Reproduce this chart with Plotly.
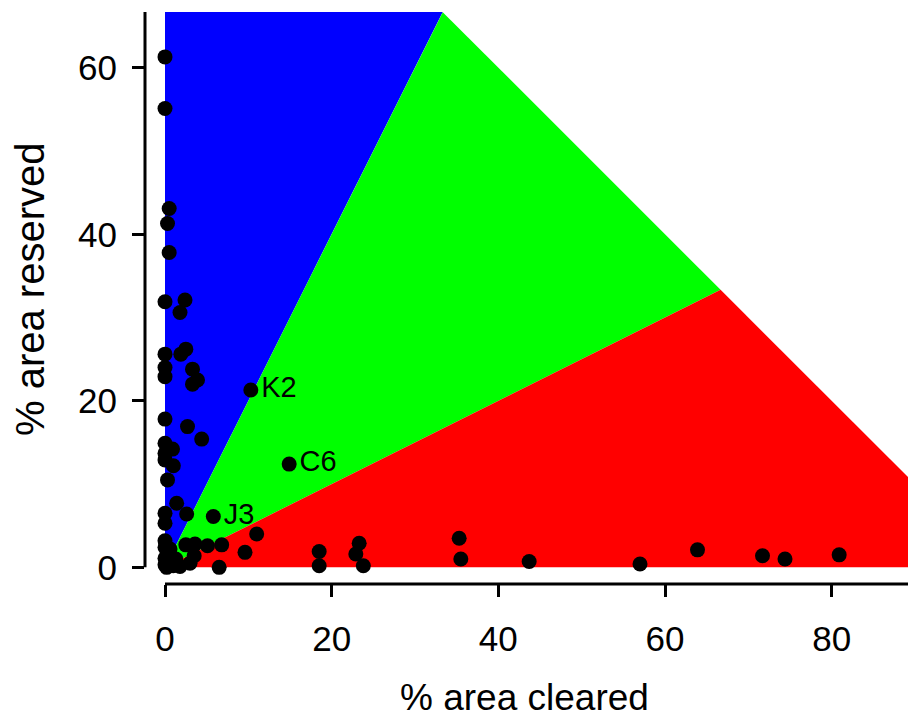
import plotly.graph_objects as go

# --- data -------------------------------------------------------------
cleared = [0, 0, 0.5, 0.3, 0.5, 0, 2.4, 1.8, 0, 1.9, 2.5, 0, 0, 3.3, 3.9, 3.3,
           10.3, 0, 2.7, 4.4, 0, 0.9, 0, 0, 1.0, 0.3, 1.4, 0, 2.6, 5.8, 0, 0,
           0, 0.6, 2.5, 3.6, 5.1, 6.8, 11.0, 9.6, 0, 0, 1.0, 1.8, 3.0, 3.5,
           6.5, 14.9, 18.5, 18.5, 23.3, 22.9, 23.8, 35.3, 35.5, 43.7, 57.0,
           63.9, 71.7, 74.4, 80.9, 0.5, 1.3, 0.2]
reserved = [61.3, 55.1, 43.1, 41.3, 37.8, 31.9, 32.1, 30.6, 25.6, 25.6, 26.2,
            24.0, 22.9, 23.8, 22.5, 22.0, 21.3, 17.8, 16.9, 15.4, 14.9, 14.2,
            13.7, 12.9, 12.2, 10.5, 7.7, 6.5, 6.4, 6.1, 5.3, 3.2, 2.4, 2.2,
            2.7, 2.8, 2.6, 2.7, 4.0, 1.8, 1.1, 0.3, 0.2, 0.1, 0.5, 1.4, 0.0,
            12.4, 1.9, 0.2, 2.9, 1.6, 0.2, 3.5, 1.0, 0.7, 0.4, 2.1, 1.4, 1.0,
            1.5, 0.6, 1.0, 0.0]
point_labels = [""] * len(cleared)
point_labels[16] = "K2"
point_labels[29] = "J3"
point_labels[47] = "C6"

# region vertices (cleared, reserved)
blue_x = [0, 0, 33.33]
blue_y = [0, 66.69, 66.69]
green_x = [0, 33.33, 66.67]
green_y = [0, 66.67, 33.33]
red_x = [0, 66.67, 100]
red_y = [0, 33.33, 0]

x_ticks = [0, 20, 40, 60, 80]
y_ticks = [0, 20, 40, 60]
x_range = [-2.4, 89.16]
y_range = [-2.0, 66.69]

# --- figure -----------------------------------------------------------
fig = go.Figure()
for xs, ys, col in [(blue_x, blue_y, "#0000FF"), (green_x, green_y, "#00FF00"),
                    (red_x, red_y, "#FF0000")]:
    fig.add_trace(go.Scatter(x=xs, y=ys, fill="toself", fillcolor=col,
                             mode="lines", line=dict(width=0, color=col),
                             hoverinfo="skip", showlegend=False))

fig.add_trace(go.Scatter(x=cleared, y=reserved, mode="markers+text",
                         text=point_labels, textposition="middle right",
                         textfont=dict(family="Liberation Sans, Arial", size=29, color="black"),
                         marker=dict(size=15, color="black"),
                         showlegend=False))

font = dict(family="Liberation Sans, Arial", color="black")

fig.update_layout(
    width=908, height=722,
    margin=dict(l=145, r=0, t=12, b=138),
    paper_bgcolor="white", plot_bgcolor="white",
    showlegend=False,
    xaxis=dict(range=x_range, tickvals=x_ticks, ticks="outside", ticklen=12,
               tickwidth=3, tickcolor="black", showgrid=False, zeroline=False,
               showline=False, tickfont=dict(size=35, **font),
               ticklabelstandoff=12),
    yaxis=dict(range=y_range, tickvals=y_ticks, ticks="outside", ticklen=12,
               tickwidth=3, tickcolor="black", showgrid=False, zeroline=False,
               showline=False, tickfont=dict(size=35, **font),
               ticklabelstandoff=8),
    shapes=[
        dict(type="line", xref="paper", yref="y", x0=0, x1=0, y0=0, y1=y_range[1],
             line=dict(color="black", width=3)),
        dict(type="line", xref="x", yref="paper", x0=0, x1=x_range[1], y0=0, y1=0,
             line=dict(color="black", width=3)),
    ],
    annotations=[
        dict(text="% area cleared", xref="paper", yref="paper", x=0.498, y=-0.1976,
             xanchor="center", yanchor="middle", showarrow=False,
             font=dict(size=37, **font)),
        dict(text="% area reserved", xref="paper", yref="paper", x=-0.1507, y=0.514,
             xanchor="center", yanchor="middle", showarrow=False, textangle=-90,
             font=dict(size=40, **font)),
    ],
)

fig.write_html("out.html", config={"displayModeBar": False},
               post_script="document.body.style.margin='0';document.body.style.overflow='hidden';")
